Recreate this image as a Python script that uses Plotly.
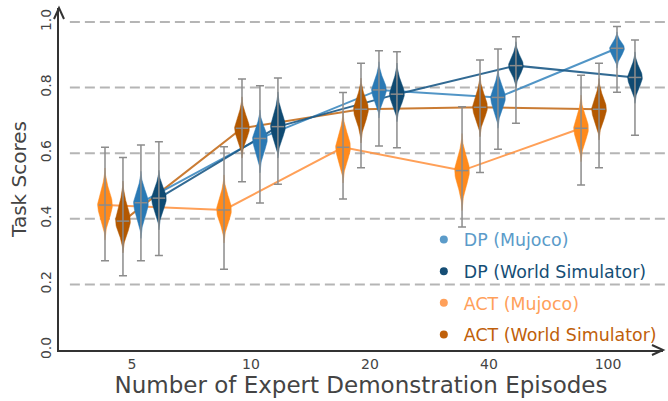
import numpy as np
import plotly.graph_objects as go

# Episode budgets on the x axis
episodes = ["5", "10", "20", "40", "100"]
y_ticks = [0.0, 0.2, 0.4, 0.6, 0.8, 1.0]

series_names = ["ACT (Mujoco)", "ACT (World Simulator)", "DP (Mujoco)", "DP (World Simulator)"]

# Per-series summaries: median, whisker max/min, and extent of the density body
act_mj_med = [0.442, 0.427, 0.618, 0.547, 0.676]
act_mj_hi = [0.618, 0.620, 0.785, 0.742, 0.838]
act_mj_lo = [0.272, 0.246, 0.460, 0.375, 0.503]
act_mj_top = [0.555, 0.534, 0.727, 0.660, 0.777]
act_mj_bot = [0.335, 0.326, 0.509, 0.425, 0.574]

act_ws_med = [0.393, 0.676, 0.734, 0.740, 0.734]
act_ws_hi = [0.587, 0.826, 0.874, 0.884, 0.874]
act_ws_lo = [0.226, 0.513, 0.556, 0.541, 0.556]
act_ws_top = [0.515, 0.772, 0.829, 0.838, 0.828]
act_ws_bot = [0.296, 0.585, 0.631, 0.650, 0.640]

dp_mj_med = [0.449, 0.645, 0.793, 0.770, 0.920]
dp_mj_hi = [0.625, 0.806, 0.912, 0.918, 0.986]
dp_mj_lo = [0.272, 0.448, 0.622, 0.612, 0.786]
dp_mj_top = [0.545, 0.732, 0.879, 0.859, 0.970]
dp_mj_bot = [0.340, 0.540, 0.707, 0.676, 0.859]

dp_ws_med = [0.463, 0.681, 0.780, 0.867, 0.831]
dp_ws_hi = [0.635, 0.829, 0.909, 0.955, 0.945]
dp_ws_lo = [0.288, 0.505, 0.617, 0.691, 0.655]
dp_ws_top = [0.548, 0.787, 0.875, 0.940, 0.909]
dp_ws_bot = [0.366, 0.585, 0.696, 0.798, 0.752]

medians = [act_mj_med, act_ws_med, dp_mj_med, dp_ws_med]
highs = [act_mj_hi, act_ws_hi, dp_mj_hi, dp_ws_hi]
lows = [act_mj_lo, act_ws_lo, dp_mj_lo, dp_ws_lo]
tops = [act_mj_top, act_ws_top, dp_mj_top, dp_ws_top]
bots = [act_mj_bot, act_ws_bot, dp_mj_bot, dp_ws_bot]

body_colors = ["#ff8a1c", "#b35800", "#2a79b4", "#0f4a72"]
line_colors = ["rgba(255,150,70,0.9)", "rgba(196,110,30,0.9)", "rgba(62,138,192,0.9)", "rgba(28,90,135,0.9)"]
legend_colors = ["#ffa05a", "#c0600a", "#5b9bc9", "#154e75"]
offsets = [-1.5, -0.5, 0.5, 1.5]
step = 0.151
half_w = 0.062
whisker_color = "#8c8c8c"
font = "DejaVu Sans, Liberation Sans, sans-serif"
text_col = "#444444"

idx = np.arange(len(episodes))
fig = go.Figure()

# Connecting lines through the medians
for s in range(4):
    fig.add_trace(go.Scatter(
        x=idx + offsets[s] * step, y=medians[s], mode="lines",
        line=dict(color=line_colors[s], width=2), showlegend=False, hoverinfo="skip"))


def body_outline(center, med, top, bot, w):
    up = np.linspace(med, top, 30)
    dn = np.linspace(bot, med, 30)
    k = 3.5
    prof_up = (np.exp(-k * ((up - med) / (top - med)) ** 2) - np.exp(-k)) / (1 - np.exp(-k))
    prof_dn = (np.exp(-k * ((med - dn) / (med - bot)) ** 2) - np.exp(-k)) / (1 - np.exp(-k))
    ys = np.concatenate([dn, up[1:]])
    ws = np.concatenate([prof_dn, prof_up[1:]]) * w
    xs = np.concatenate([center + ws, (center - ws)[::-1]])
    yy = np.concatenate([ys, ys[::-1]])
    return xs, yy


# Density bodies
for s in range(4):
    for i in idx:
        cx = i + offsets[s] * step
        xs, ys = body_outline(cx, medians[s][i], tops[s][i], bots[s][i], half_w)
        fig.add_trace(go.Scatter(
            x=xs, y=ys, mode="lines", fill="toself", fillcolor=body_colors[s],
            line=dict(color=body_colors[s], width=0.5), showlegend=False, hoverinfo="skip"))

# Whiskers and median ticks
for s in range(4):
    med = np.array(medians[s])
    fig.add_trace(go.Scatter(
        x=idx + offsets[s] * step, y=med, mode="markers",
        marker=dict(symbol="line-ew", size=9, line=dict(color=whisker_color, width=1.5)),
        error_y=dict(type="data", symmetric=False,
                     array=np.array(highs[s]) - med, arrayminus=med - np.array(lows[s]),
                     color=whisker_color, thickness=1.5, width=4),
        showlegend=False, hoverinfo="skip"))

# Legend entries
for s in [2, 3, 0, 1]:
    fig.add_trace(go.Scatter(
        x=[None], y=[None], mode="markers",
        marker=dict(color=legend_colors[s], size=8),
        name=f'<span style="color:{legend_colors[s]}">{series_names[s]}</span>',
        legendgroup=series_names[s]))

# Dashed horizontal guides
for v in y_ticks[1:]:
    fig.add_shape(type="line", xref="paper", yref="y", x0=0.018, x1=1.01, y0=v, y1=v,
                  line=dict(color="#b5b5b5", width=2, dash="10px,5px"), layer="below")

# Arrow heads on both axes
axis_col = "#333333"
fig.add_shape(type="path", xref="paper", yref="paper", xsizemode="pixel", ysizemode="pixel",
              xanchor=0, yanchor=1, path="M -5,-11 L 0,0 L 5,-11",
              line=dict(color=axis_col, width=2))
fig.add_shape(type="path", xref="paper", yref="paper", xsizemode="pixel", ysizemode="pixel",
              xanchor=1, yanchor=0, path="M -11,5 L 0,0 L -11,-5",
              line=dict(color=axis_col, width=2))

fig.update_layout(
    width=668, height=401,
    margin=dict(l=59, r=5, t=8, b=51),
    paper_bgcolor="white", plot_bgcolor="white",
    font=dict(family=font, color=text_col),
    xaxis=dict(range=[-0.613, 4.462], tickvals=idx, ticktext=episodes, showgrid=False,
               zeroline=False, showline=True, linecolor=axis_col, linewidth=2, ticks="",
               tickfont=dict(size=14, color=text_col),
               title=dict(text="Number of Expert Demonstration Episodes",
                          font=dict(size=23, color=text_col), standoff=4)),
    yaxis=dict(range=[0, 1.0427], tickvals=y_ticks, ticktext=[f"{v:.1f}" for v in y_ticks],
               tickangle=-90, showgrid=False, zeroline=False, showline=True,
               linecolor=axis_col, linewidth=2, ticks="",
               tickfont=dict(size=14, color=text_col),
               title=dict(text="Task Scores", font=dict(size=20, color=text_col), standoff=6)),
    legend=dict(x=0.604, y=0.375, xanchor="left", yanchor="top", bgcolor="rgba(0,0,0,0)",
                font=dict(size=17.4, family=font), tracegroupgap=6, traceorder="grouped"),
)

fig.write_html("out.html")
